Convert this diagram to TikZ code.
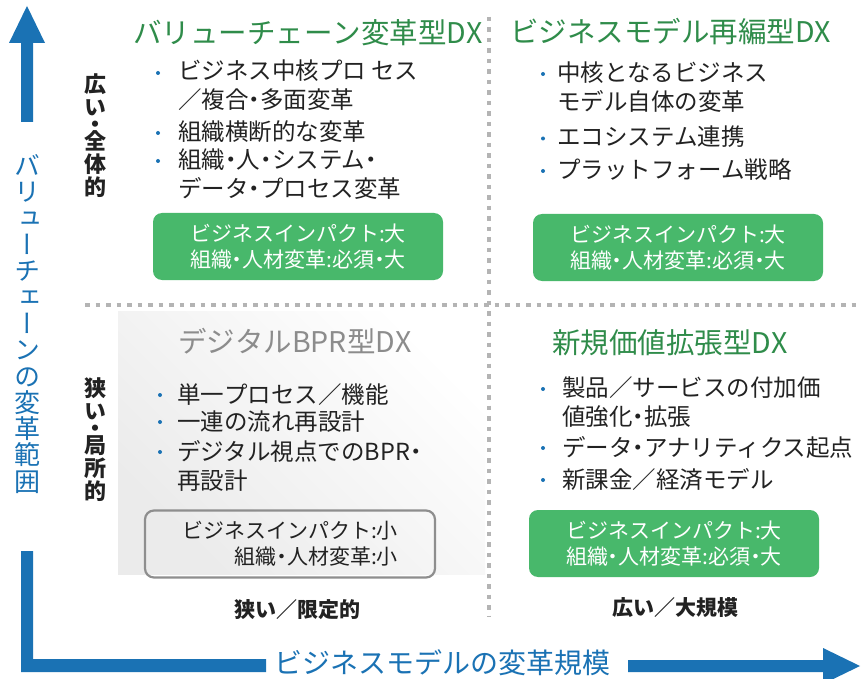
\documentclass[tikz,border=0pt]{standalone}
\usepackage{fontspec}
\setmainfont{Noto Sans CJK JP}
\newfontfamily\vjp{Noto Sans CJK JP}[RawFeature=+vert]
\newcommand{\nd}{{\addfontfeature{RawFeature=+palt}・}}
\definecolor{axisblue}{HTML}{1A72B4}
\definecolor{titlegreen}{HTML}{2F8C4A}
\definecolor{boxgreen}{HTML}{48B86B}
\definecolor{titlegray}{HTML}{8C8C8C}
\definecolor{txt}{HTML}{222222}
\definecolor{dotgray}{HTML}{B4B4B4}
\definecolor{bordergray}{HTML}{8E8E8E}
\begin{document}
\begin{tikzpicture}[x=1pt,y=-1pt,
  title/.style={font=\fontsize{28.5}{30}\selectfont\addfontfeature{Kerning=Off}, anchor=west, inner sep=0},
  bul/.style={font=\fontsize{23.5}{29}\selectfont, text=txt, anchor=base west, align=left, inner sep=0},
  bdot/.style={circle, fill=axisblue, inner sep=0, minimum size=4pt},
  impact/.style={rounded corners=9pt, align=center, font=\fontsize{21}{26}\selectfont, minimum width=290pt, minimum height=67pt, inner sep=0},
  greenimpact/.style={impact, fill=boxgreen, text=white},
  grayimpact/.style={impact, draw=bordergray, line width=2.2pt, text=txt, align=right},
  sidelabel/.style={font=\vjp\bfseries\fontsize{22}{23}\selectfont, text=txt, align=center, inner sep=0},
  bottomlabel/.style={font=\bfseries\fontsize{21}{24}\selectfont, text=txt, inner sep=0},
  dotline/.style={dotgray, line width=4.5pt, dash pattern=on 4.5pt off 6pt}
]
\useasboundingbox (0,0) rectangle (865,679);
\fill[white] (0,0) rectangle (865,679);
% lower-left background
\shade[left color=black!8, right color=white, shading angle=135] (118,311) rectangle (485,574);
% dotted dividers
\draw[dotline] (85,305) -- (862,305);
\draw[dotline] (489,17) -- (489,617);
% axes
\fill[axisblue] (21,122) -- (21,43) -- (9,43) -- (27,6) -- (45,43) -- (33,43) -- (33,122) -- cycle;
\fill[axisblue] (21,551) -- (33,551) -- (33,659) -- (266,659) -- (266,672) -- (21,672) -- cycle;
\fill[axisblue] (628,660) -- (823,660) -- (823,648) -- (860,666) -- (823,684) -- (823,672) -- (628,672) -- cycle;
\node[font=\vjp\fontsize{26}{26.3}\selectfont, text=axisblue, align=center, inner sep=0] (vaxis) at (27,324)
  {バ\\リ\\ュ\\ー\\チ\\ェ\\ー\\ン\\の\\変\\革\\範\\囲};
\node[font=\fontsize{28}{30}\selectfont, text=axisblue, inner sep=0] (haxis) at (442,663) {ビジネスモデルの変革規模};
% side labels
\node[sidelabel] (wide) at (95,136) {広\\い\\[-6pt]・\\[-6pt]全\\体\\的};
\node[sidelabel] (narrow) at (95,440) {狭\\い\\[-6pt]・\\[-6pt]局\\所\\的};
% bottom labels
\node[bottomlabel] (narrowb) at (297,610) {狭い／限定的};
\node[bottomlabel] (wideb) at (675,608) {広い／大規模};
% top-left
\node[title, text=titlegreen] (tlt) at (133,33) {バリューチェーン変革型DX};
\node[bdot] (tld1) at (158,73) {};
\node[bul] (tl1) at (178,108.5) {ビジネス中核プロ セス\\／複合\nd 多面変革};
\node[bdot] (tld2) at (158,133) {};
\node[bul] (tl2) at (178,140.5) {組織横断的な変革};
\node[bdot] (tld3) at (158,161) {};
\node[bul] (tl3) at (178,198) {組織\nd 人\nd システム\nd\\データ\nd プロセス変革};
\node[greenimpact] (tlbox) at (298,246.5) {ビジネスインパクト:大\\組織\nd 人材変革:必須\nd 大};
% top-right
\node[title, text=titlegreen] (trt) at (510,32) {ビジネスモデル再編型DX};
\node[bdot] (trd1) at (543,74) {};
\node[bul] (tr1) at (557,111) {中核となるビジネス\\モデル自体の変革};
\node[bdot] (trd2) at (543,138.5) {};
\node[bul] (tr2) at (557,146) {エコシステム連携};
\node[bdot] (trd3) at (543,171) {};
\node[bul] (tr3) at (557,178.5) {プラットフォーム戦略};
\node[greenimpact] (trbox) at (678,247.5) {ビジネスインパクト:大\\組織\nd 人材変革:必須\nd 大};
% bottom-left
\node[title, text=titlegray] (blt) at (178,341) {デジタルBPR型DX};
\node[bdot] (bld1) at (160,395) {};
\node[bul] (bl1) at (177,403) {単一プロセス／機能};
\node[bdot] (bld2) at (160,422) {};
\node[bul] (bl2) at (177,430) {一連の流れ再設計};
\node[bdot] (bld3) at (160,452) {};
\node[bul] (bl3) at (177,489) {デジタル視点でのBPR\nd\\再設計};
\node[grayimpact] (blbox) at (290,544) {ビジネスインパクト:小\\組織\nd 人材変革:小};
% bottom-right
\node[title, text=titlegreen] (brt) at (552,343) {新規価値拡張型DX};
\node[bdot] (brd1) at (543,389) {};
\node[bul] (br1) at (562,425.5) {製品／サービスの付加価\\値強化\nd 拡張};
\node[bdot] (brd2) at (543,448) {};
\node[bul] (br2) at (562,456) {データ\nd アナリティクス起点};
\node[bdot] (brd3) at (543,480) {};
\node[bul] (br3) at (562,488) {新課金／経済モデル};
\node[greenimpact] (brbox) at (674,543.5) {ビジネスインパクト:大\\組織\nd 人材変革:必須\nd 大};
\end{tikzpicture}
\end{document}
